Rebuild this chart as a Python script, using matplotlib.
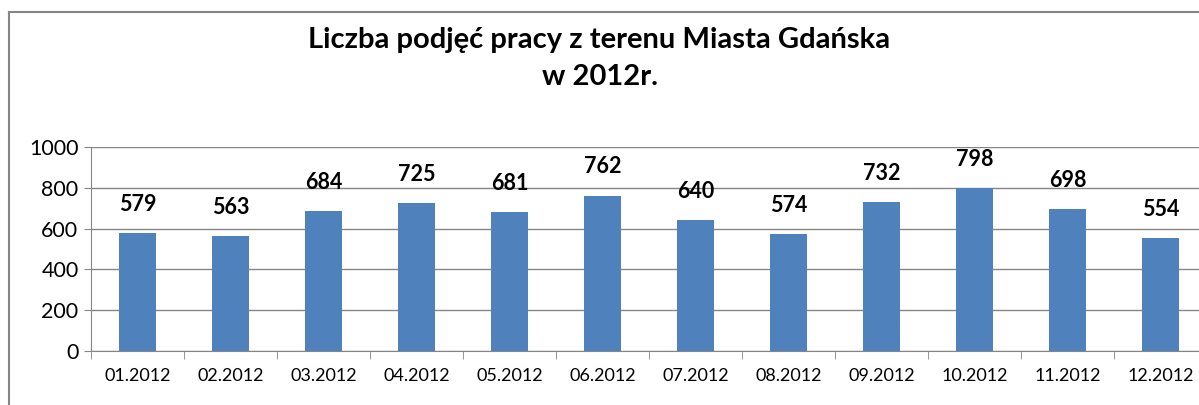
import matplotlib
matplotlib.use("Agg")
import matplotlib.pyplot as plt
from matplotlib.lines import Line2D

plt.rcParams['font.family'] = ['Lato', 'DejaVu Sans']

months = ['01.2012', '02.2012', '03.2012', '04.2012', '05.2012', '06.2012',
          '07.2012', '08.2012', '09.2012', '10.2012', '11.2012', '12.2012']
values = [579, 563, 684, 725, 681, 762, 640, 574, 732, 798, 698, 554]
yticks = [0, 200, 400, 600, 800, 1000]

W, H = 1199, 405
fig = plt.figure(figsize=(W / 100, H / 100), dpi=100)

# frame of the chart area (only left and top edges are in the picture)
top = 1 - 11.5 / H
left = 8.5 / W
fig.add_artist(Line2D([left, left], [-0.05, top], transform=fig.transFigure,
                      color='#868686', linewidth=1.5))
fig.add_artist(Line2D([left, 1.05], [top, top], transform=fig.transFigure,
                      color='#868686', linewidth=1.5))

ax = fig.add_axes([91 / W, 1 - 351 / H, 1116 / W, (351 - 147) / H])
x = list(range(len(months)))
ax.bar(x, values, width=0.4, color='#4F81BD', zorder=3)

for xi, v in zip(x, values):
    ax.annotate(str(v), (xi, v), xytext=(0, 13), textcoords='offset points',
                ha='center', va='bottom', fontsize=15.5, fontweight='bold')

ax.set_xlim(-0.5, len(months) - 0.5)
ax.set_ylim(0, 1000)
ax.set_yticks(yticks)
ax.set_yticklabels([str(t) for t in yticks], fontsize=15.5)
ax.set_xticks(x)
ax.set_xticklabels(months, fontsize=13)
ax.set_xticks([i - 0.5 for i in range(len(months) + 1)], minor=True)
ax.tick_params(axis='x', which='major', length=0, pad=12)
ax.tick_params(axis='x', which='minor', length=6, color='#868686', direction='out')
ax.tick_params(axis='y', length=5, color='#868686', pad=4)

ax.grid(axis='y', color='#868686', linewidth=1, zorder=0)
for s in ['top', 'right']:
    ax.spines[s].set_visible(False)
ax.spines['left'].set_color('#868686')
ax.spines['bottom'].set_color('#868686')

fig.text(0.5, 1 - 40 / H, 'Liczba podjęć pracy z terenu Miasta Gdańska',
         ha='center', va='center', fontsize=21, fontweight='bold')
fig.text(0.5, 1 - 77 / H, 'w 2012r.',
         ha='center', va='center', fontsize=21, fontweight='bold')

fig.savefig('out.png', dpi=100)
